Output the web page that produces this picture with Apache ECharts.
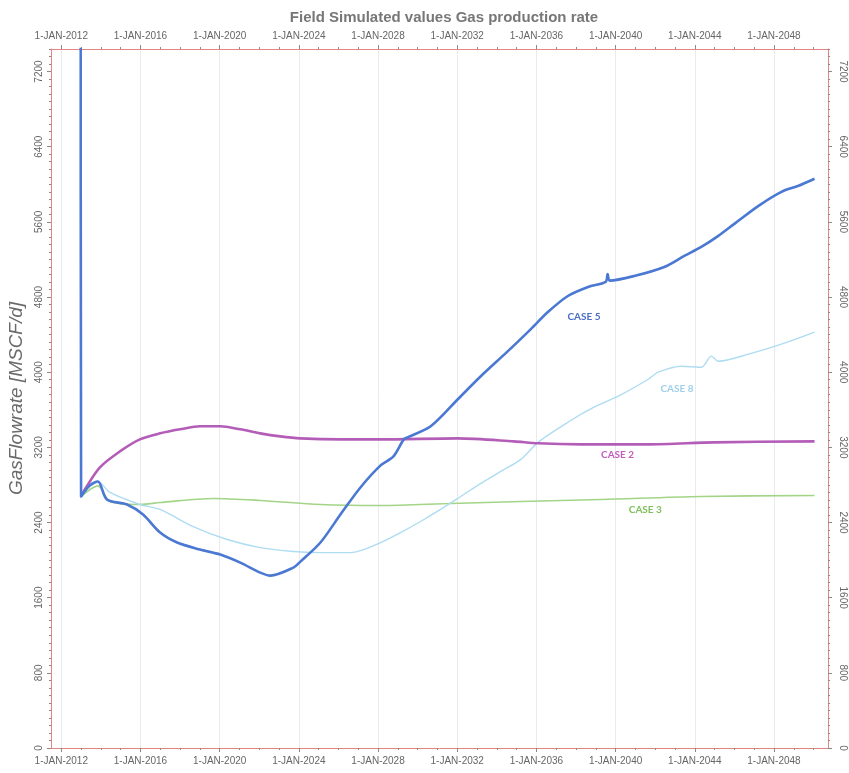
<!DOCTYPE html>
<html>
<head>
<meta charset="utf-8">
<script src="https://cdn.jsdelivr.net/npm/echarts@6/dist/echarts.min.js"></script>
<style>
html,body{margin:0;padding:0;background:#fff;}
#chart{width:849px;height:773px;}
</style>
</head>
<body>
<div id="chart"></div>
<script>
// ---- Data (decimal years, MSCF/d) ----
const majorYears = [2012, 2016, 2020, 2024, 2028, 2032, 2036, 2040, 2044, 2048];
const minorYears = [2012,2013,2014,2015,2016,2017,2018,2019,2020,2021,2022,2023,2024,2025,2026,2027,2028,2029,2030,2031,2032,2033,2034,2035,2036,2037,2038,2039,2040,2041,2042,2043,2044,2045,2046,2047,2048,2049,2050];
const yTickValues = [0, 800, 1600, 2400, 3200, 4000, 4800, 5600, 6400, 7200];

const case5Years = [2012.98, 2013.00, 2013.44, 2013.85, 2014.30, 2015.32, 2016.13, 2016.99, 2017.85, 2019.01, 2020.03, 2021.04, 2022.05, 2022.56, 2023.72, 2024.08, 2025.09, 2026.10, 2027.11, 2028.13, 2028.78, 2029.30, 2029.49, 2030.66, 2032.03, 2033.19, 2034.56, 2035.72, 2036.58, 2037.59, 2038.61, 2039.50, 2039.60, 2039.70, 2040.94, 2042.46, 2043.47, 2044.33, 2045.19, 2046.00, 2047.22, 2048.38, 2049.24, 2050.05];
const case5Values = [9000, 2677, 2795, 2837, 2645, 2592, 2485, 2293, 2187, 2112, 2059, 1973, 1867, 1835, 1920, 1984, 2187, 2485, 2773, 3008, 3104, 3285, 3307, 3424, 3712, 3957, 4224, 4459, 4640, 4811, 4907, 4962, 5045, 4975, 5024, 5120, 5237, 5333, 5451, 5579, 5771, 5920, 5984, 6059];

const case2Years = [2013.00, 2013.19, 2013.95, 2014.96, 2015.97, 2016.99, 2018.00, 2019.01, 2020.03, 2021.04, 2022.05, 2023.06, 2024.08, 2026.10, 2028.13, 2032.03, 2034.86, 2036.08, 2038.25, 2041.65, 2044.99, 2050.05];
const case2Values = [2677, 2752, 2987, 3157, 3285, 3349, 3392, 3424, 3424, 3392, 3349, 3317, 3296, 3285, 3285, 3296, 3264, 3243, 3232, 3232, 3253, 3264];

const case3Years = [2013.00, 2013.85, 2014.46, 2015.97, 2016.99, 2019.67, 2022.05, 2025.09, 2028.13, 2031.67, 2035.22, 2039.27, 2044.33, 2050.05];
const case3Values = [2677, 2790, 2624, 2592, 2613, 2656, 2635, 2592, 2581, 2603, 2624, 2645, 2677, 2688];

const case8Years = [2013.00, 2013.85, 2014.46, 2015.97, 2016.99, 2018.66, 2020.38, 2022.05, 2023.72, 2025.09, 2026.61, 2027.11, 2028.13, 2029.14, 2030.15, 2031.16, 2032.18, 2033.19, 2034.20, 2035.22, 2036.08, 2037.59, 2038.91, 2040.13, 2041.65, 2042.15, 2043.32, 2044.33, 2044.84, 2045.19, 2046.71, 2048.38, 2050.05];
const case8Values = [2677, 2837, 2720, 2592, 2539, 2357, 2219, 2133, 2091, 2080, 2080, 2101, 2187, 2293, 2411, 2539, 2677, 2816, 2944, 3072, 3253, 3467, 3627, 3744, 3925, 4000, 4064, 4053, 4171, 4117, 4192, 4299, 4427];

// In-chart case labels (data coordinates)
const caseNames = ['CASE 5', 'CASE 8', 'CASE 2', 'CASE 3'];
const caseLabelYears = [2038.4, 2043.1, 2040.1, 2041.5];
const caseLabelValues = [4590, 3820, 3125, 2540];

const zip = (xs, ys) => xs.map((x, i) => [x, ys[i]]);

const X_MIN = 2011.48, X_MAX = 2050.73, Y_MAX = 7440;
const axisRed = '#e38582';
const labelGrey = '#666666';
const tickGrey = '#8a8a8a';
const labelFont = { color: labelGrey, fontSize: 10, fontFamily: 'Liberation Sans, Arial, sans-serif' };

function xAxisMajor(pos) {
  return {
    type: 'value', position: pos, min: X_MIN, max: X_MAX,
    axisLine: { show: true, onZero: false, lineStyle: { color: axisRed, width: 1 } },
    axisTick: { show: true, customValues: majorYears, length: 4, lineStyle: { color: tickGrey } },
    axisLabel: Object.assign({ show: true, customValues: majorYears, margin: 8,
      formatter: v => '1-JAN-' + Math.round(v) }, labelFont),
    splitLine: { show: pos === 'bottom', lineStyle: { color: '#e9e9ee', width: 1 } }
  };
}
function xAxisMinor(pos) {
  return {
    type: 'value', position: pos, min: X_MIN, max: X_MAX,
    axisLine: { show: false, onZero: false },
    axisTick: { show: true, customValues: minorYears, length: 2, lineStyle: { color: tickGrey } },
    axisLabel: { show: false },
    splitLine: { show: false }
  };
}
function yAxisMajor(pos) {
  return {
    type: 'value', position: pos, min: 0, max: Y_MAX,
    name: pos === 'left' ? 'GasFlowrate [MSCF/d]' : '',
    nameLocation: 'middle', nameGap: 23,
    nameTextStyle: { color: '#6a6a6a', fontSize: 19, fontStyle: 'italic', fontFamily: 'Liberation Sans, Arial, sans-serif' },
    axisLine: { show: true, onZero: false, lineStyle: { color: axisRed, width: 1 } },
    axisTick: { show: true, customValues: yTickValues, length: 4, lineStyle: { color: tickGrey } },
    axisLabel: Object.assign({ show: true, customValues: yTickValues, rotate: pos === 'left' ? 90 : -90,
      margin: pos === 'left' ? 7 : 10, formatter: v => String(Math.round(v)) }, labelFont),
    splitLine: { show: false }
  };
}
function yAxisMinor(pos) {
  return {
    type: 'value', position: pos, min: 0, max: Y_MAX, interval: 80,
    axisLine: { show: false, onZero: false },
    axisTick: { show: true, length: 2, lineStyle: { color: tickGrey } },
    axisLabel: { show: false },
    splitLine: { show: false }
  };
}

function caseLabel(i, color) {
  return {
    symbol: 'circle', symbolSize: 0, silent: true,
    data: [{ coord: [caseLabelYears[i], caseLabelValues[i]] }],
    label: { show: true, position: 'inside', formatter: caseNames[i], color: color,
      fontSize: 10, fontWeight: 'bold', fontFamily: 'Lato, Open Sans, sans-serif' }
  };
}

const lineCommon = { type: 'line', xAxisIndex: 0, yAxisIndex: 0, showSymbol: false, symbol: 'none',
  smooth: 0.3, clip: true };

const chart = echarts.init(document.getElementById('chart'), null, { renderer: 'canvas' });
chart.setOption({
  animation: false,
  backgroundColor: '#ffffff',
  title: {
    text: 'Field Simulated values Gas production rate',
    left: 439, textAlign: 'center', top: 5,
    textStyle: { color: '#777777', fontSize: 15, fontWeight: 'bold', fontFamily: 'Liberation Sans, Arial, sans-serif' }
  },
  grid: { left: 51, right: 21, top: 49, bottom: 25, containLabel: false, outerBoundsMode: 'none' },
  xAxis: [xAxisMajor('bottom'), xAxisMajor('top'), xAxisMinor('bottom'), xAxisMinor('top')],
  yAxis: [yAxisMajor('left'), yAxisMajor('right'), yAxisMinor('left'), yAxisMinor('right')],
  series: [
    Object.assign({ name: 'CASE 3', data: zip(case3Years, case3Values),
      lineStyle: { color: '#a3d487', width: 1.6 }, markPoint: caseLabel(3, '#7dbf5a') }, lineCommon),
    Object.assign({ name: 'CASE 8', data: zip(case8Years, case8Values),
      lineStyle: { color: '#aedcf2', width: 1.4 }, markPoint: caseLabel(1, '#9fd0ea') }, lineCommon),
    Object.assign({ name: 'CASE 2', data: zip(case2Years, case2Values),
      lineStyle: { color: '#b35db8', width: 2.6 }, markPoint: caseLabel(2, '#c25cbf') }, lineCommon),
    Object.assign({ name: 'CASE 5', data: zip(case5Years, case5Values),
      lineStyle: { color: '#4a78d2', width: 2.6 }, markPoint: caseLabel(0, '#4a6fc4') }, lineCommon)
  ]
});
</script>
</body>
</html>
